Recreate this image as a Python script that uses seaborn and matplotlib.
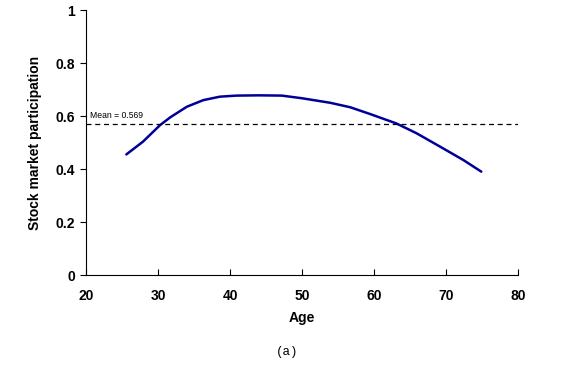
import matplotlib
matplotlib.use("Agg")
import matplotlib.pyplot as plt
import seaborn as sns
import pandas as pd

# values
ages = [25.6, 27.9, 30.3, 31.7, 34.0, 36.3, 38.6, 40.9, 44.0, 47.2, 50.0,
        53.9, 56.7, 59.4, 63.1, 65.9, 69.2, 72.4, 74.9]
participation = [0.455, 0.503, 0.566, 0.595, 0.635, 0.660, 0.673, 0.677, 0.678, 0.677, 0.667,
                 0.650, 0.633, 0.608, 0.572, 0.535, 0.484, 0.434, 0.390]
mean_value = 0.569
x_ticks = [20, 30, 40, 50, 60, 70, 80]
y_ticks = [0, 0.2, 0.4, 0.6, 0.8, 1]
y_ticklabels = ["0", "0.2", "0.4", "0.6", "0.8", "1"]

sns.set_theme(style="white")
plt.rcParams["font.family"] = ["Liberation Sans", "DejaVu Sans"]
plt.rcParams["text.color"] = "black"
plt.rcParams["axes.labelcolor"] = "black"

df = pd.DataFrame({"Age": ages, "Participation": participation})

fig = plt.figure(figsize=(5.75, 3.68), dpi=100)
ax = fig.add_axes([0.1496, 0.2527, 0.7513, 0.7201])

sns.lineplot(data=df, x="Age", y="Participation", color="#000099", linewidth=1.8, ax=ax)
ax.axhline(mean_value, color="black", linestyle=(0, (4, 3)), linewidth=0.9)
ax.text(20.6, mean_value + 0.015, f"Mean = {mean_value}", fontsize=6.2, va="bottom", ha="left")

ax.set_xlim(20, 80)
ax.set_ylim(0, 1)
ax.set_xticks(x_ticks)
ax.set_yticks(y_ticks)
ax.set_yticklabels(y_ticklabels)
for lab in ax.get_xticklabels() + ax.get_yticklabels():
    lab.set_fontweight("bold")
    lab.set_fontsize(10)
    lab.set_color("black")

ax.set_xlabel("Age", fontsize=10, fontweight="bold", labelpad=6)
ax.set_ylabel("Stock market participation", fontsize=10, fontweight="bold", labelpad=10)

ax.tick_params(axis="x", direction="in", length=4, width=0.8, colors="black", pad=10)
ax.tick_params(axis="y", direction="out", length=4, width=0.8, colors="black", pad=4)
ax.tick_params(left=True, bottom=True)
for side in ["top", "right"]:
    ax.spines[side].set_visible(False)
for side in ["left", "bottom"]:
    ax.spines[side].set_color("black")
    ax.spines[side].set_linewidth(0.8)

fig.text(0.5, 0.043, "(a)", ha="center", va="center", fontsize=9, family="Liberation Mono")

fig.savefig("out.png", dpi=100)
